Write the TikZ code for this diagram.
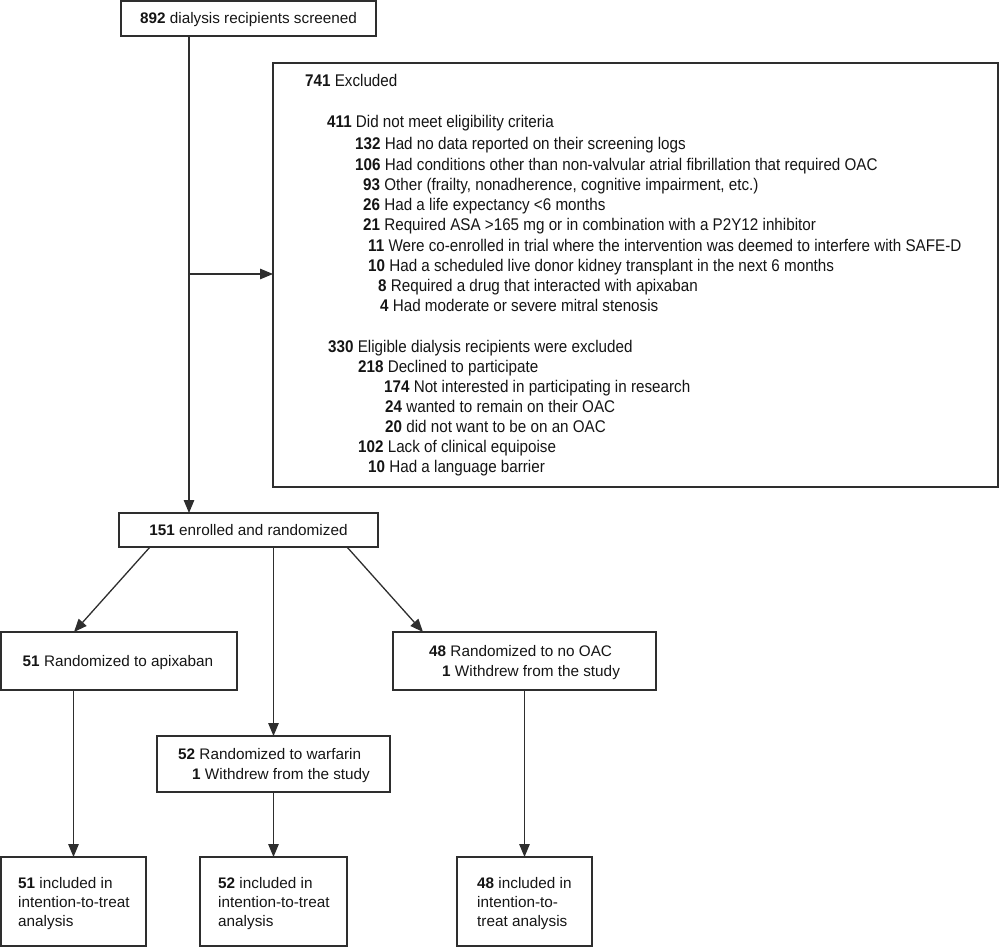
\documentclass[tikz,border=0pt]{standalone}
\usepackage{fontspec}
\setmainfont{Liberation Sans}
\newfontfamily\exfont[FakeStretch=0.9]{Liberation Sans}
\usetikzlibrary{arrows.meta}
\definecolor{ln}{HTML}{2E2E2E}
\definecolor{tx}{HTML}{151515}
\begin{document}
\begin{tikzpicture}[x=1pt,y=-1pt,
  box/.style={draw=ln, line width=1.4pt, inner sep=0pt, outer sep=0pt, anchor=north west},
  arr/.style={draw=ln, line width=1.3pt, -{Triangle[length=13pt,width=10.5pt]}},
  txt/.style={inner sep=0pt, text=tx, text height=11pt, text depth=0pt, font=\fontsize{15.3}{19}\selectfont},
  lt/.style={txt, anchor=west},
  ex/.style={inner sep=0pt, text=tx, text height=12pt, text depth=0pt, anchor=west, font=\exfont\fontsize{16.9}{20}\selectfont}]
\useasboundingbox (0,0) rectangle (1000,947);
% boxes
\node[box, minimum width=255pt, minimum height=35pt] (top) at (121,1) {};
\node[box, minimum width=725pt, minimum height=424pt] (excl) at (273,63) {};
\node[box, minimum width=259pt, minimum height=34pt] (enr) at (119,513) {};
\node[box, minimum width=236pt, minimum height=58pt] (apix) at (1,632) {};
\node[box, minimum width=263pt, minimum height=58pt] (nooac) at (393,632) {};
\node[box, minimum width=233pt, minimum height=56pt] (warf) at (157,736) {};
\node[box, minimum width=145pt, minimum height=89pt] (itt1) at (1,857) {};
\node[box, minimum width=147pt, minimum height=89pt] (itt2) at (200,857) {};
\node[box, minimum width=135pt, minimum height=89pt] (itt3) at (457,857) {};
% flow texts
\node[txt] (ttop) at (248.5,18) {\textbf{892} dialysis recipients screened};
\node[txt] (tenr) at (248.5,530) {\textbf{151} enrolled and randomized};
\node[txt] (tapix) at (118,661) {\textbf{51} Randomized to apixaban};
\node[lt] (tno1) at (429,651) {\textbf{48} Randomized to no OAC};
\node[lt] (tno2) at (442,671) {\textbf{1} Withdrew from the study};
\node[lt] (twa1) at (178,754) {\textbf{52} Randomized to warfarin};
\node[lt] (twa2) at (192,774) {\textbf{1} Withdrew from the study};
\node[lt] (ta1) at (18,883) {\textbf{51} included in};
\node[lt] (ta2) at (18,902) {intention-to-treat};
\node[lt] (ta3) at (18,921) {analysis};
\node[lt] (tb1) at (218,883) {\textbf{52} included in};
\node[lt] (tb2) at (218,902) {intention-to-treat};
\node[lt] (tb3) at (218,921) {analysis};
\node[lt] (tc1) at (477,883) {\textbf{48} included in};
\node[lt] (tc2) at (477,902) {intention-to-};
\node[lt] (tc3) at (477,921) {treat analysis};
% exclusion texts
\node[ex] (e1) at (305,81) {\textbf{741} Excluded};
\node[ex] (e2) at (327,122) {\textbf{411} Did not meet eligibility criteria};
\node[ex] (e3) at (355,143) {\textbf{132} Had no data reported on their screening logs};
\node[ex] (e4) at (355,164) {\textbf{106} Had conditions other than non-valvular atrial fibrillation that required OAC};
\node[ex] (e5) at (363,184) {\textbf{93} Other (frailty, nonadherence, cognitive impairment, etc.)};
\node[ex] (e6) at (363,204) {\textbf{26} Had a life expectancy <6 months};
\node[ex] (e7) at (363,224) {\textbf{21} Required ASA >165 mg or in combination with a P2Y12 inhibitor};
\node[ex] (e8) at (368,245) {\textbf{11} Were co-enrolled in trial where the intervention was deemed to interfere with SAFE-D};
\node[ex] (e9) at (368,265) {\textbf{10} Had a scheduled live donor kidney transplant in the next 6 months};
\node[ex] (e10) at (378,285) {\textbf{8} Required a drug that interacted with apixaban};
\node[ex] (e11) at (380,305) {\textbf{4} Had moderate or severe mitral stenosis};
\node[ex] (e12) at (328,346) {\textbf{330} Eligible dialysis recipients were excluded};
\node[ex] (e13) at (358,366) {\textbf{218} Declined to participate};
\node[ex] (e14) at (384,386) {\textbf{174} Not interested in participating in research};
\node[ex] (e15) at (385,406) {\textbf{24} wanted to remain on their OAC};
\node[ex] (e16) at (385,426) {\textbf{20} did not want to be on an OAC};
\node[ex] (e17) at (358,446) {\textbf{102} Lack of clinical equipoise};
\node[ex] (e18) at (368,466) {\textbf{10} Had a language barrier};
% connectors
\draw[arr] ([xshift=68pt]top.south west) -- ([xshift=70pt]enr.north west);
\coordinate (j) at (189,274);
\draw[arr] (j) -- (j -| excl.west);
\draw[arr] ([xshift=31pt]enr.south west) -- ([xshift=73pt]apix.north west);
\draw[arr] ([xshift=228pt]enr.south west) -- ([xshift=30pt]nooac.north west);
\draw[arr] (warf.north |- enr.south) -- (warf.north);
\draw[arr] (itt1.north |- apix.south) -- (itt1.north);
\draw[arr] (warf.south) -- (warf.south |- itt2.north);
\draw[arr] (itt3.north |- nooac.south) -- (itt3.north);
\end{tikzpicture}
\end{document}
